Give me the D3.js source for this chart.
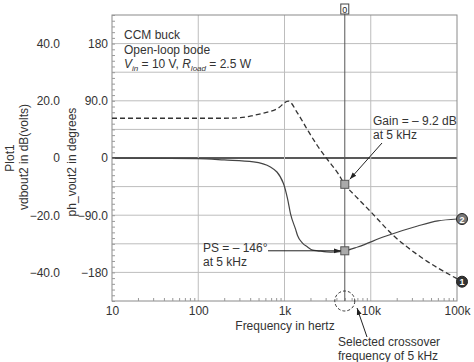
<!DOCTYPE html>
<html>
<head>
<meta charset="utf-8">
<script src="https://cdn.jsdelivr.net/npm/d3@7"></script>
<style>
  body { margin: 0; background: #fff; }
  svg { display: block; font-family: "Liberation Sans", Arial, sans-serif; }
  .lbl { fill: #333; font-size: 12px; }
</style>
</head>
<body>
<svg width="474" height="362"></svg>
<script>
// ---- data ----
const freqTicks = [10, 100, 1000, 10000, 100000];
const freqTickLabels = ["10", "100", "1k", "10k", "100k"];
const gainTicks = [40, 20, 0, -20, -40];
const gainTickLabels = ["40.0", "20.0", "0", "\u221220.0", "\u221240.0"];
const phaseTicks = [180, 90, 0, -90, -180];
const phaseTickLabels = ["180", "90.0", "0", "\u221290.0", "\u2212180"];

// curve 1 : gain in dB
const gainFreq = [10, 100, 200, 308, 437, 568, 830, 1110, 1416, 1850, 2420, 3180, 4130, 5000, 7000, 10000, 18000, 38000, 100000];
const gainDb   = [13.9, 13.9, 13.9, 14.1, 14.9, 15.7, 17.3, 19.9, 15.7, 9.8, 4.2, -0.7, -5.2, -9.2, -14.0, -18.8, -26.9, -34.6, -42.2];

// curve 2 : phase in degrees
const phaseFreq = [10, 100, 200, 437, 687, 972, 1084, 1175, 1343, 1416, 1618, 1850, 2118, 2420, 3430, 5000, 7060, 14200, 35000, 60000, 100000];
const phaseDeg  = [0, -1, -3, -6, -14, -40, -64, -88, -112, -122, -134, -140, -145, -146, -148, -146, -140, -124, -107, -99, -96];

const crossFreq = 5000, crossGain = -9.2, crossPhase = -146;

// ---- layout ----
const svg = d3.select("svg");
const L = 112, R = 457, T = 15, B = 301;

const x = d3.scaleLog().domain([10, 100000]).range([L, R]);
const yG = d3.scaleLinear().domain([-50, 50]).range([B, T]);
const yP = d3.scaleLinear().domain([-225, 225]).range([B, T]);

const defs = svg.append("defs");
defs.append("marker")
    .attr("id", "arr")
    .attr("viewBox", "0 0 10 10")
    .attr("refX", 10).attr("refY", 5)
    .attr("markerWidth", 7).attr("markerHeight", 7)
    .attr("orient", "auto")
  .append("path")
    .attr("d", "M0,1.5 L10,5 L0,8.5 Z")
    .attr("fill", "#222");

// grid
const grid = svg.append("g");
grid.selectAll(".hg")
    .data(d3.range(-40, 41, 10))
  .join("line")
    .attr("x1", L).attr("x2", R)
    .attr("y1", d => yG(d)).attr("y2", d => yG(d))
    .attr("stroke", d => d === 0 ? "#222" : "#bdbdbd")
    .attr("stroke-width", d => d === 0 ? 1.3 : 1);
grid.selectAll(".vg")
    .data([100, 1000, 10000])
  .join("line")
    .attr("x1", d => x(d)).attr("x2", d => x(d))
    .attr("y1", T).attr("y2", B)
    .attr("stroke", "#bdbdbd");

// frame
svg.append("rect")
    .attr("x", L).attr("y", T)
    .attr("width", R - L).attr("height", B - T)
    .attr("fill", "none").attr("stroke", "#8a8a8a");

// minor ticks, bottom (log) and left
const minorX = [];
for (let dec = 10; dec < 100000; dec *= 10)
    for (let k = 2; k <= 9; k++) minorX.push(dec * k);
svg.append("g")
    .attr("transform", `translate(0,${B})`)
    .call(d3.axisBottom(x).tickValues(minorX).tickSize(-3).tickFormat(""))
    .call(g => g.select(".domain").remove())
    .call(g => g.selectAll("line").attr("stroke", "#999"));
svg.append("g")
    .attr("transform", `translate(${L},0)`)
    .call(d3.axisLeft(yG).tickValues(d3.range(-50, 51, 2)).tickSize(-3).tickFormat(""))
    .call(g => g.select(".domain").remove())
    .call(g => g.selectAll("line").attr("stroke", "#999"));

// axes labels
svg.append("g")
    .attr("transform", `translate(0,${B})`)
    .call(d3.axisBottom(x).tickValues(freqTicks).tickSize(0).tickPadding(5)
        .tickFormat((d, i) => freqTickLabels[i]))
    .call(g => g.select(".domain").remove())
    .call(g => g.selectAll("text").attr("class", "lbl").attr("fill", null)
        .style("font-size", "12px").style("font-family", null));

svg.append("g")
    .attr("transform", "translate(60,0)")
    .call(d3.axisLeft(yG).tickValues(gainTicks).tickSize(0).tickPadding(0)
        .tickFormat((d, i) => gainTickLabels[i]))
    .call(g => g.select(".domain").remove())
    .call(g => g.selectAll("text").attr("class", "lbl").attr("fill", null)
        .style("font-size", "12px").style("font-family", null));

svg.append("g")
    .attr("transform", "translate(108,0)")
    .call(d3.axisLeft(yP).tickValues(phaseTicks).tickSize(0).tickPadding(0)
        .tickFormat((d, i) => phaseTickLabels[i]))
    .call(g => g.select(".domain").remove())
    .call(g => g.selectAll("text").attr("class", "lbl").attr("fill", null)
        .style("font-size", "12px").style("font-family", null));

function vtext(cx, cy, s) {
    svg.append("text").attr("class", "lbl")
        .attr("transform", `translate(${cx},${cy}) rotate(-90)`)
        .attr("text-anchor", "middle").attr("dy", "0.35em")
        .text(s);
}
vtext(10, 158, "Plot1");
vtext(24, 157, "vdbout2 in dB(volts)");
vtext(72, 162, "ph_vout2 in degrees");

svg.append("text").attr("class", "lbl")
    .attr("x", 285).attr("y", 330).attr("text-anchor", "middle")
    .text("Frequency in hertz");

// title block
const tb = svg.append("g").attr("class", "lbl");
tb.append("text").attr("x", 124).attr("y", 39).text("CCM buck");
tb.append("text").attr("x", 124).attr("y", 54).text("Open-loop bode");
const t3 = tb.append("text").attr("x", 124).attr("y", 68);
t3.append("tspan").attr("font-style", "italic").text("V");
t3.append("tspan").attr("font-style", "italic").attr("font-size", "8px").attr("dy", 3).text("in");
t3.append("tspan").attr("dy", -3).text(" = 10 V, ");
t3.append("tspan").attr("font-style", "italic").text("R");
t3.append("tspan").attr("font-style", "italic").attr("font-size", "8px").attr("dy", 3).text("load");
t3.append("tspan").attr("dy", -3).text(" = 2.5 W");

// cursor at 5 kHz
svg.append("line")
    .attr("x1", x(crossFreq)).attr("x2", x(crossFreq))
    .attr("y1", 8).attr("y2", B)
    .attr("stroke", "#555").attr("stroke-width", 1);
svg.append("rect")
    .attr("x", x(crossFreq) - 4).attr("y", 4).attr("width", 8).attr("height", 10)
    .attr("fill", "#fff").attr("stroke", "#444");
svg.append("text")
    .attr("x", x(crossFreq)).attr("y", 12.5).attr("text-anchor", "middle")
    .attr("font-size", "9px").attr("fill", "#222").text("0");

// curves
const gainLine = d3.line()
    .x(d => x(d[0])).y(d => yG(d[1]))
    .curve(d3.curveMonotoneX);
const phaseLine = d3.line()
    .x(d => x(d[0])).y(d => yP(d[1]))
    .curve(d3.curveMonotoneX);

svg.append("path")
    .datum(d3.zip(gainFreq, gainDb))
    .attr("d", gainLine)
    .attr("fill", "none").attr("stroke", "#333")
    .attr("stroke-width", 1.3).attr("stroke-dasharray", "5,3");
svg.append("path")
    .datum(d3.zip(phaseFreq, phaseDeg))
    .attr("d", phaseLine)
    .attr("fill", "none").attr("stroke", "#444")
    .attr("stroke-width", 1.2);

// markers at 5 kHz
[yG(crossGain), yP(crossPhase)].forEach(py => {
    svg.append("rect")
        .attr("x", x(crossFreq) - 4).attr("y", py - 4)
        .attr("width", 8).attr("height", 8)
        .attr("fill", "#aaa").attr("stroke", "#555");
});

// end labels
const ends = [
    { id: "1", y: yG(gainDb[gainDb.length - 1]) + 3, fill: "#333" },
    { id: "2", y: yP(phaseDeg[phaseDeg.length - 1]), fill: "#777" }
];
ends.forEach(e => {
    svg.append("circle").attr("cx", R + 5).attr("cy", e.y).attr("r", 5.5)
        .attr("fill", e.fill).attr("stroke", "#222");
    svg.append("text").attr("x", R + 5).attr("y", e.y + 3.5)
        .attr("text-anchor", "middle").attr("font-size", "9px")
        .attr("font-weight", "bold").attr("fill", "#fff").text(e.id);
});

// callouts
const c1 = svg.append("g").attr("class", "lbl");
c1.append("text").attr("x", 373).attr("y", 125).text("Gain = \u2013 9.2 dB");
c1.append("text").attr("x", 373).attr("y", 139).text("at 5 kHz");
svg.append("line")
    .attr("x1", 382).attr("y1", 143).attr("x2", x(crossFreq) + 5).attr("y2", yG(crossGain) - 5)
    .attr("stroke", "#222").attr("marker-end", "url(#arr)");

const c2 = svg.append("g").attr("class", "lbl");
c2.append("text").attr("x", 203).attr("y", 252).text("PS = \u2013 146\u00b0");
c2.append("text").attr("x", 203).attr("y", 266).text("at 5 kHz");
svg.append("line")
    .attr("x1", 268).attr("y1", yP(crossPhase)).attr("x2", x(crossFreq) - 4).attr("y2", yP(crossPhase))
    .attr("stroke", "#222").attr("marker-end", "url(#arr)");

svg.append("circle")
    .attr("cx", x(crossFreq)).attr("cy", B).attr("r", 10)
    .attr("fill", "none").attr("stroke", "#333").attr("stroke-dasharray", "3,2");
svg.append("line")
    .attr("x1", 367).attr("y1", 337).attr("x2", 357).attr("y2", 308)
    .attr("stroke", "#222").attr("marker-end", "url(#arr)");
const c3 = svg.append("g").attr("class", "lbl");
c3.append("text").attr("x", 338).attr("y", 346).text("Selected crossover");
c3.append("text").attr("x", 338).attr("y", 360).text("frequency of 5 kHz");
</script>
</body>
</html>
